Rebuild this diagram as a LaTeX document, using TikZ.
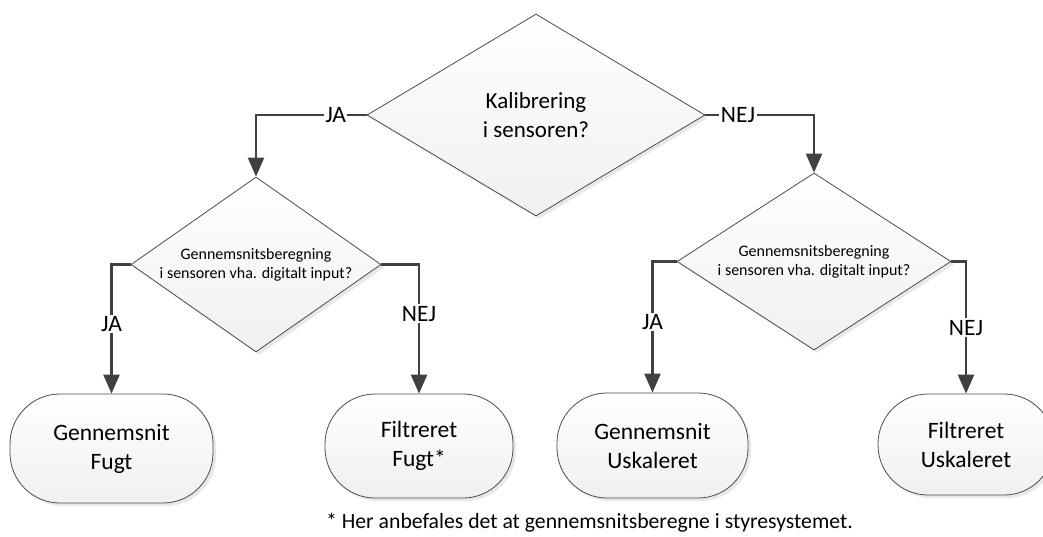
\documentclass[tikz,border=0pt]{standalone}
\usepackage{fontspec}
\setmainfont{Carlito}
\usetikzlibrary{shapes.geometric,arrows.meta,shadows}

\tikzset{
  decision/.style={diamond, draw=black!70, line width=0.8pt, top color=white,
    bottom color=black!6, inner sep=0pt, align=center,
    drop shadow={opacity=0.18, shadow xshift=3pt, shadow yshift=-3pt}},
  terminal/.style={rectangle, rounded corners=50pt, draw=black!70, line width=0.8pt,
    top color=white, bottom color=black!6, align=center,
    font=\fontsize{23.5}{29}\selectfont,
    drop shadow={opacity=0.18, shadow xshift=3pt, shadow yshift=-3pt}},
  conn/.style={draw=black!75, line width=2.5pt, -{Triangle[length=19pt,width=16pt]}},
  lbl/.style={fill=white, inner sep=1.5pt, font=\fontsize{23.5}{28}\selectfont}
}

\begin{document}
\begin{tikzpicture}[x=1pt, y=-1pt]
   \useasboundingbox (0,0) rectangle (1043,536);

   % decisions
   \node[decision, aspect=1.67, minimum width=338pt, minimum height=202pt,
         font=\fontsize{23}{29}\selectfont] (kal) at (536,115) {Kalibrering\\i sensoren?};
   \node[decision, aspect=1.43, minimum width=250pt, minimum height=175pt,
         font=\fontsize{16}{19}\selectfont] (gnsL) at (256,264.5)
         {Gennemsnitsberegning\\i sensoren vha. digitalt input?};
   \node[decision, aspect=1.55, minimum width=274pt, minimum height=177pt,
         font=\fontsize{16}{19}\selectfont] (gnsR) at (814,261.5)
         {Gennemsnitsberegning\\i sensoren vha. digitalt input?};

   % results
   \node[terminal, minimum width=203pt, minimum height=109pt] (gnsFugt) at (111.5,448.5) {Gennemsnit\\Fugt};
   \node[terminal, minimum width=188pt, minimum height=104pt] (filFugt) at (419,446) {Filtreret\\Fugt*};
   \node[terminal, minimum width=191pt, minimum height=105pt] (gnsUsk) at (652.5,445.5) {Gennemsnit\\Uskaleret};
   \node[terminal, minimum width=176pt, minimum height=101pt] (filUsk) at (966,444.5) {Filtreret\\Uskaleret};

   % branches
   \draw[conn] (kal.west) -| node[lbl, pos=0.14] (jaTop) {JA} (gnsL.north);
   \draw[conn] (kal.east) -| node[lbl, pos=0.15] (nejTop) {NEJ} (gnsR.north);
   \draw[conn] (gnsL.west) -| node[lbl, pos=0.73] (jaL) {JA} (gnsFugt.north);
   \draw[conn] (gnsL.east) -| node[lbl, pos=0.69] (nejL) {NEJ} (filFugt.north);
   \draw[conn] (gnsR.west) -| node[lbl, pos=0.73] (jaR) {JA} (gnsUsk.north);
   \draw[conn] (gnsR.east) -| node[lbl, pos=0.75] (nejR) {NEJ} (filUsk.north);

   \node[anchor=west, inner sep=0pt, font=\fontsize{21.7}{26}\selectfont] (note) at (326,523)
        {* Her anbefales det at gennemsnitsberegne i styresystemet.};
\end{tikzpicture}
\end{document}
